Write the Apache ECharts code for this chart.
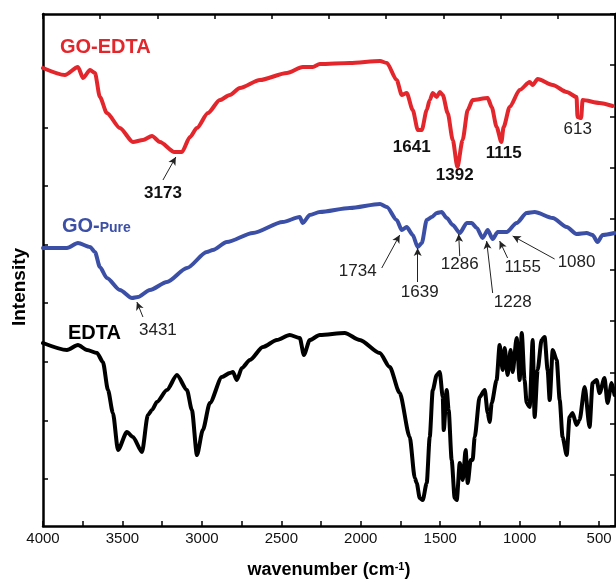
<!DOCTYPE html>
<html>
<head>
<meta charset="utf-8">
<script src="https://cdn.jsdelivr.net/npm/echarts@6/dist/echarts.min.js"></script>
<style>html,body{margin:0;padding:0;background:#fff}#c{width:616px;height:579px}</style>
</head>
<body>
<div id="c"></div>
<script>
// ---- data (wavenumber cm^-1, intensity a.u.) ----
const redWn  = [4000,3862,3780,3748,3704,3673,3642,3598,3516,3434,3371,3314,3264,3173,3126,3075,3031,2962,2887,2824,2761,2635,2465,2365,2302,2258,2069,1879,1836,1774,1742,1711,1673,1641,1616,1585,1566,1547,1522,1503,1484,1453,1421,1392,1359,1327,1296,1201,1176,1145,1115,1101,1063,1000,937,918,887,792,704,642,636,613,604,497,415];
const redInt = [458,451,459,448,456,453,429,413,398,384,386,390,384,374,374,389,398,413,426,431,438,446,453,459,459,462,463,465,463,446,431,433,416,396,396,416,426,433,429,434,431,413,386,359,386,416,426,428,419,399,384,399,419,436,444,441,447,441,434,429,409,408,426,423,420];

const blueWn  = [4000,3849,3780,3704,3673,3642,3598,3516,3440,3403,3327,3220,3094,2969,2931,2843,2679,2491,2384,2365,2321,2258,2069,1879,1836,1774,1742,1711,1673,1642,1616,1585,1553,1522,1491,1459,1421,1377,1333,1302,1270,1233,1201,1170,1138,1082,1019,956,906,792,704,642,579,541,510,478,403];
const blueInt = [278,278,283,279,274,259,248,236,228,229,236,244,258,274,276,284,293,304,309,303,311,314,318,322,319,306,296,299,291,279,283,306,309,313,314,308,301,293,303,303,298,288,296,287,294,294,303,313,314,308,299,292,293,291,284,291,293];

const blackWn  = [4000,3849,3780,3723,3660,3623,3591,3560,3528,3472,3434,3377,3340,3314,3283,3220,3157,3094,3063,3031,2994,2950,2874,2824,2805,2780,2748,2698,2616,2528,2447,2384,2358,2321,2258,2101,2006,1881,1818,1755,1692,1660,1648,1629,1610,1585,1566,1547,1522,1503,1484,1478,1459,1447,1428,1409,1396,1377,1358,1340,1327,1308,1296,1283,1252,1220,1201,1189,1176,1145,1126,1107,1094,1076,1057,1044,1019,1000,987,969,956,937,918,906,887,862,843,824,811,792,767,748,730,704,686,667,642,623,591,560,541,516,497,466,447,421,403];
const blackInt = [183,176,181,176,173,164,136,113,76,94,89,74,111,116,124,136,151,136,116,71,96,123,149,153,154,146,158,166,179,186,191,188,171,186,191,193,186,173,159,133,89,48,43,28,26,43,89,136,151,154,129,96,136,116,66,28,26,63,46,76,43,66,66,89,129,136,113,104,123,146,181,156,178,151,176,154,188,146,193,146,123,119,186,109,156,186,189,156,126,176,166,126,89,71,109,113,101,106,139,99,143,146,133,148,123,143,131];

const xLabelValues = [500,1000,1500,2000,2500,3000,3500,4000];
const xTickValues  = [500,750,1000,1250,1500,1750,2000,2250,2500,2750,3000,3250,3500,3750,4000];
const yTickValues  = [47,105.6,164.2,222.8,281.4,340,398.6,457.2];

// curve names: [text, wn, intensity, color]
const curveNames = [
  ['GO-EDTA', 3893, 479, '#e3262b'],
  ['EDTA',    3843, 193, '#000000']
];
// peak labels: [text, label wn, label intensity, bold]
const peakLabels = [
  ['3173', 3245, 333, true], ['1641', 1679, 379, true], ['1392', 1409, 351, true],
  ['1115', 1101, 373, true], ['613', 635, 397, false],
  ['3431', 3277, 196, false], ['1734', 2019, 255, false], ['1639', 1629, 234, false],
  ['1286', 1377, 262, false], ['1228', 1044, 224, false], ['1155', 981, 259, false],
  ['1080', 642, 264, false]
];
// arrows: [from wn, from int, to wn, to int]
const arrows = [
  [3245,346,3164,369],
  [3371,209,3409,224],
  [1868,258,1755,291],
  [1642,244,1642,278],
  [1377,270,1384,292],
  [1170,233,1208,285],
  [1076,268,1126,285],
  [780,267,1044,290]
];

const FONT = '"Liberation Sans", Arial, sans-serif';
const zip = (a, b) => a.map((v, i) => [v, b[i]]);

const chart = echarts.init(document.getElementById('c'), null, {renderer: 'canvas'});
const lineSeries = (name, wn, y, color) => ({
  name, type: 'line', xAxisIndex: 0, yAxisIndex: 0,
  data: zip(wn, y), showSymbol: false, smooth: 0.25, smoothMonotone: 'x',
  lineStyle: {color, width: 4, join: 'round', cap: 'round'}, silent: true, animation: false, z: 3
});

chart.setOption({
  animation: false,
  grid: {left: 43, right: 1, top: 14, bottom: 53, containLabel: false, outerBoundsMode: 'none'},
  xAxis: [{
    type: 'value', inverse: true, min: 400, max: 4000,
    axisLine: {show: true, onZero: false, lineStyle: {color: '#000', width: 2.5}},
    axisTick: {show: true, inside: true, length: 5, customValues: xTickValues, lineStyle: {color: '#000', width: 1.5}},
    axisLabel: {show: true, customValues: xLabelValues, margin: 5, fontFamily: FONT, fontSize: 15, color: '#111',
      formatter: v => String(v)},
    splitLine: {show: false},
    name: '{a|wavenumber (cm}{s|-1}{a|)}', nameLocation: 'middle', nameGap: 35,
    nameTextStyle: {rich: {
      a: {fontFamily: FONT, fontSize: 18, fontWeight: 'bold', color: '#000'},
      s: {fontFamily: FONT, fontSize: 11, fontWeight: 'bold', color: '#000', verticalAlign: 'top', padding: [0,0,8,0]}
    }}
  }, {
    type: 'value', position: 'top', min: 0, max: 10, interval: 1,
    axisLine: {show: true, onZero: false, lineStyle: {color: '#000', width: 2.5}},
    axisTick: {show: true, inside: true, length: 5, lineStyle: {color: '#000', width: 1.5}},
    axisLabel: {show: false}, splitLine: {show: false}
  }],
  yAxis: [{
    type: 'value', min: 0, max: 512,
    axisLine: {show: true, onZero: false, lineStyle: {color: '#000', width: 2.5}},
    axisTick: {show: true, inside: true, length: 5, customValues: yTickValues, lineStyle: {color: '#000', width: 1.5}},
    axisLabel: {show: false}, splitLine: {show: false}
  }, {
    type: 'value', position: 'right', min: 0, max: 10, interval: 1,
    axisLine: {show: true, onZero: false, lineStyle: {color: '#000', width: 2.5}},
    axisTick: {show: true, inside: true, length: 5, lineStyle: {color: '#000', width: 1.5}},
    axisLabel: {show: false}, splitLine: {show: false}
  }],
  series: [
    lineSeries('GO-EDTA', redWn, redInt, '#e3262b'),
    lineSeries('GO-Pure', blueWn, blueInt, '#3b4fa6'),
    lineSeries('EDTA', blackWn, blackInt, '#000000'),
    {
      type: 'line', data: [], xAxisIndex: 0, yAxisIndex: 0, silent: true,
      markLine: {
        silent: true, animation: false, symbol: ['none', 'arrow'], symbolSize: [6, 8],
        label: {show: false},
        lineStyle: {color: '#222', width: 1, type: 'solid'},
        data: arrows.map(a => [{coord: [a[0], a[1]]}, {coord: [a[2], a[3]]}])
      }
    }
  ]
});

const g = [];
curveNames.forEach(([t, wn, v, col]) => {
  const p = chart.convertToPixel({xAxisIndex: 0, yAxisIndex: 0}, [wn, v]);
  g.push({type: 'text', x: p[0], y: p[1], silent: true, style: {
    text: t, fill: col, font: 'bold 20px ' + FONT, textAlign: 'left', textVerticalAlign: 'middle'}});
});
(function () {
  const p = chart.convertToPixel({xAxisIndex: 0, yAxisIndex: 0}, [3881, 300]);
  g.push({type: 'text', x: p[0], y: p[1], silent: true, style: {
    text: '{a|GO-}{b|Pure}', textAlign: 'left', textVerticalAlign: 'middle',
    rich: {
      a: {fill: '#3b4fa6', fontFamily: FONT, fontSize: 20, fontWeight: 'bold', verticalAlign: 'bottom'},
      b: {fill: '#3b4fa6', fontFamily: FONT, fontSize: 14, fontWeight: 'bold', verticalAlign: 'bottom', padding: [0,0,1,0]}
    }}});
})();
peakLabels.forEach(([t, wn, v, bold]) => {
  const p = chart.convertToPixel({xAxisIndex: 0, yAxisIndex: 0}, [wn, v]);
  g.push({type: 'text', x: p[0], y: p[1], silent: true, style: {
    text: t, fill: bold ? '#111' : '#222', font: (bold ? 'bold 17px ' : '17px ') + FONT,
    textAlign: 'center', textVerticalAlign: 'middle'}});
});
g.push({type: 'text', x: 20, y: 287, rotation: Math.PI / 2, silent: true, style: {
  text: 'Intensity', fill: '#000', font: 'bold 19px ' + FONT, textAlign: 'center', textVerticalAlign: 'middle'}});
chart.setOption({graphic: g});
</script>
</body>
</html>
